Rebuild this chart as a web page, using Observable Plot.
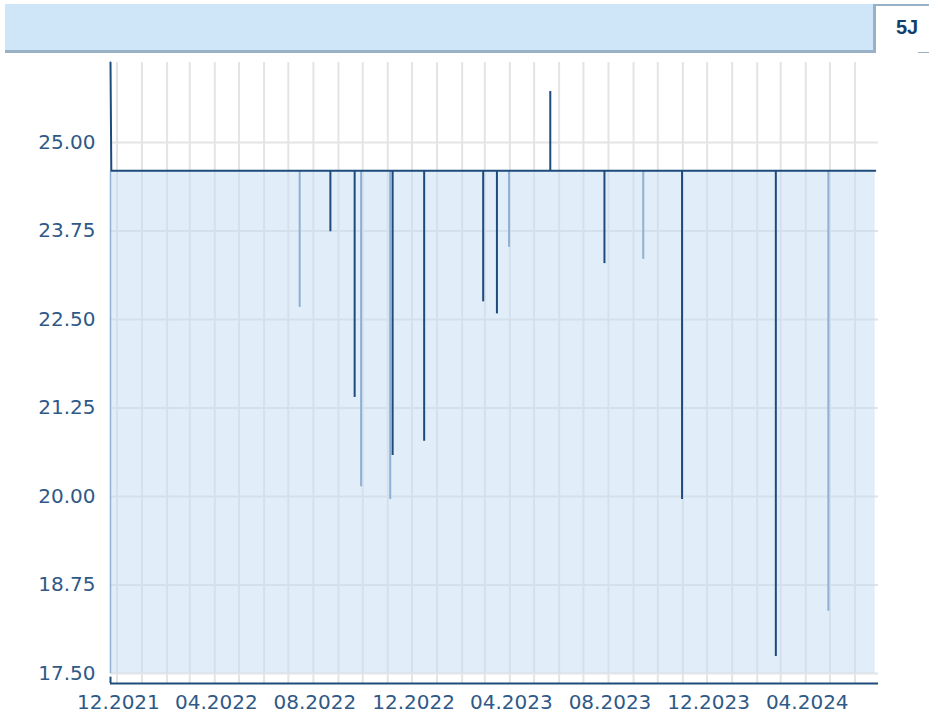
<!DOCTYPE html>
<html>
<head>
<meta charset="utf-8">
<script src="https://cdn.jsdelivr.net/npm/d3@7"></script>
<script src="https://cdn.jsdelivr.net/npm/@observablehq/plot@0.6"></script>
<style>
  html, body { margin: 0; padding: 0; background: #fff; }
  #wrap { width: 929px; }
  #hdr { position: relative; height: 54px; }
  #bar { position: absolute; left: 5px; top: 4px; width: 868px; height: 46px; background: #cfe5f8; border-bottom: 3px solid #98b1c7; }
  #tab { position: absolute; left: 873px; top: 4px; width: 53px; height: 47px; border-top: 2px solid #98b1c7; border-left: 3px solid #98b1c7; background: #fff; }
  #tabtxt { position: absolute; left: 884px; width: 46px; top: 16px; line-height: 20px; text-align: center; font: bold 20px "Liberation Sans", Arial, sans-serif; color: #123f6e; }
  #tabline { position: absolute; left: 918px; top: 52px; width: 11px; height: 1px; background: #98b1c7; }
  #chart svg { display: block; overflow: visible; }
</style>
</head>
<body>
<div id="wrap">
  <div id="hdr">
    <div id="bar"></div>
    <div id="tab"></div>
    <div id="tabtxt">5J</div>
    <div id="tabline"></div>
  </div>
  <div id="chart"></div>
</div>
<script>
// ---- data ----
const xTickLabels = ["12.2021", "04.2022", "08.2022", "12.2022", "04.2023", "08.2023", "12.2023", "04.2024"];
const yTickValues = [17.5, 18.75, 20, 21.25, 22.5, 23.75, 25];

// main price level (flat line with an initial drop from above the frame)
const seriesDates = ["2021-11-23", "2021-11-24", "2024-06-26"];
const seriesValues = [26.13, 24.6, 24.6];
const baseLevel = 24.6;

// short-lived moves away from the level (dark strokes)
const darkDipDates = ["2022-08-22", "2022-09-21", "2022-11-07", "2022-12-16", "2023-02-27", "2023-03-16", "2023-05-21", "2023-07-27", "2023-10-31", "2024-02-24"];
const darkDipValues = [23.74, 21.40, 20.58, 20.78, 22.75, 22.58, 25.72, 23.29, 19.96, 17.74];

// short-lived moves away from the level (light strokes)
const lightDipDates = ["2022-07-15", "2022-09-29", "2022-11-04", "2023-03-31", "2023-09-13", "2024-04-29"];
const lightDipValues = [22.67, 20.14, 19.96, 23.52, 23.35, 18.38];

// ---- build tables ----
const parse = d3.utcParse("%Y-%m-%d");
const series = seriesDates.map((d, i) => ({date: parse(d), value: seriesValues[i]}));
const darkDips = darkDipDates.map((d, i) => ({date: parse(d), value: darkDipValues[i]}));
const lightDips = lightDipDates.map((d, i) => ({date: parse(d), value: lightDipValues[i]}));
const xTicks = xTickLabels.map(s => d3.utcParse("%m.%Y")(s));

const xDomain = [parse("2021-11-23"), parse("2024-06-30")];
const yDomain = [17.36, 26.13];
const monthGrid = d3.utcMonth.range(d3.utcMonth.ceil(xDomain[0]), xDomain[1]);

const dark = "#1d4b7c";
const light = "#8fb0d2";
const grid = "#e4e4e4";

const chart = Plot.plot({
  width: 929,
  height: 659,
  marginTop: 8,
  marginBottom: 30,
  marginLeft: 110,
  marginRight: 51,
  style: {fontFamily: "'DejaVu Sans', sans-serif", fontSize: "20px", color: "#2f5987", background: "transparent"},
  x: {type: "utc", domain: xDomain},
  y: {domain: yDomain},
  marks: [
    Plot.gridY(yTickValues, {stroke: grid, strokeOpacity: 1, strokeWidth: 2}),
    Plot.gridX(monthGrid, {stroke: grid, strokeOpacity: 1, strokeWidth: 2}),
    Plot.areaY(series, {x: "date", y1: 17.5, y2: "value", fill: "#c4ddf4", fillOpacity: 0.5}),
    Plot.ruleX([series[0]], {x: "date", y1: 17.5, y2: baseLevel, stroke: light, strokeWidth: 1.5}),
    Plot.ruleX(lightDips, {x: "date", y1: baseLevel, y2: "value", stroke: light, strokeWidth: 2}),
    Plot.ruleX(darkDips, {x: "date", y1: baseLevel, y2: "value", stroke: dark, strokeWidth: 2}),
    Plot.line(series, {x: "date", y: "value", stroke: dark, strokeWidth: 2}),
    Plot.ruleY([yDomain[0]], {stroke: dark, strokeWidth: 2}),
    Plot.ruleX([xDomain[0]], {y1: yDomain[0], y2: 17.45, stroke: dark, strokeWidth: 2}),
    Plot.axisY({ticks: yTickValues, tickSize: 0, tickPadding: 15, tickFormat: d3.format(".2f"), label: null}),
    Plot.axisX({ticks: xTicks, tickSize: 0, tickPadding: 11, tickFormat: d3.utcFormat("%m.%Y"), label: null, dx: 1.5})
  ]
});
document.getElementById("chart").appendChild(chart);
</script>
</body>
</html>
